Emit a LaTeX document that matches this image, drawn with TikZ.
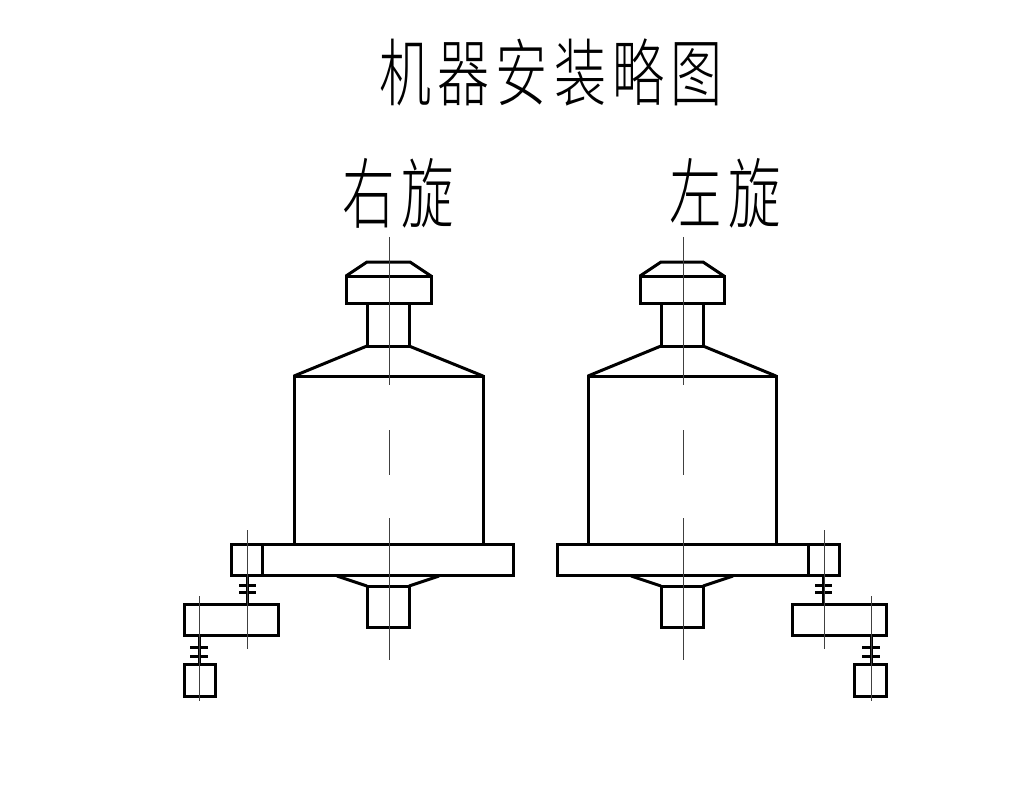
\documentclass[tikz,border=0pt]{standalone}
\usepackage{fontspec}
\newfontfamily\cjk[LetterSpace=12]{Noto Sans CJK SC Light}
\tikzset{
 outline/.style={line width=3pt,line join=miter,black},
 center line/.style={line width=1pt,black!75},
 titletext/.style={inner sep=0pt,black,font=\cjk},
}
\begin{document}
\begin{tikzpicture}[x=1pt,y=-1pt]
\useasboundingbox (0,0) rectangle (1035,786);
\fill[white] (0,0) rectangle (1035,786);
\node[titletext] (title) at (551,73) {\scalebox{0.85}[1.2]{\fontsize{61.3}{66}\selectfont 机器安装略图}};
\node[titletext] (rt) at (398,193.5) {\scalebox{0.82}[1.2]{\fontsize{64}{68}\selectfont 右旋}};
\node[titletext] (lt) at (725.5,193.5) {\scalebox{0.82}[1.2]{\fontsize{64}{68}\selectfont 左旋}};
% right-hand machine
\draw[outline] (346,276) rectangle (431,303);
\draw[outline] (346,276) -- (367,262) -- (410,262) -- (431,276);
\draw[outline] (367,303) rectangle (409,346);
\draw[outline] (294,376) -- (367,346) (409,346) -- (483,376);
\draw[outline] (294,376) rectangle (483,544);
\draw[outline] (231,544) rectangle (513,575);
\draw[outline] (262,544) -- (262,575);
\draw[outline] (337,576) -- (367,586) (409,586) -- (439,576);
\draw[outline] (367,586) rectangle (409,627);
\draw[outline] (247,575) -- (247,604);
\draw[outline] (239,585) -- (256,585) (239,592) -- (256,592);
\draw[outline] (184,604) rectangle (278,635);
\draw[outline] (199,635) -- (199,664);
\draw[outline] (190,647) -- (208,647) (190,656) -- (208,656);
\draw[outline] (184,664) rectangle (215,696);
\draw[center line] (389,237) -- (389,385) (389,430) -- (389,475) (389,518) -- (389,660);
\draw[center line] (247,530) -- (247,649);
\draw[center line] (199.5,596) -- (199.5,701);
% left-hand machine
\draw[outline] (640,276) rectangle (724,303);
\draw[outline] (640,276) -- (661,262) -- (703,262) -- (724,276);
\draw[outline] (661,303) rectangle (703,346);
\draw[outline] (588,376) -- (661,346) (703,346) -- (776,376);
\draw[outline] (588,376) rectangle (776,544);
\draw[outline] (557,544) rectangle (839,575);
\draw[outline] (808,544) -- (808,575);
\draw[outline] (631,576) -- (661,586) (703,586) -- (733,576);
\draw[outline] (661,586) rectangle (703,627);
\draw[outline] (823,575) -- (823,604);
\draw[outline] (815,585) -- (832,585) (815,592) -- (832,592);
\draw[outline] (792,604) rectangle (886,635);
\draw[outline] (871,635) -- (871,664);
\draw[outline] (862,647) -- (880,647) (862,656) -- (880,656);
\draw[outline] (854,664) rectangle (886,696);
\draw[center line] (683,237) -- (683,385) (683,430) -- (683,475) (683,518) -- (683,660);
\draw[center line] (824,530) -- (824,649);
\draw[center line] (871,596) -- (871,701);
\end{tikzpicture}
\end{document}
